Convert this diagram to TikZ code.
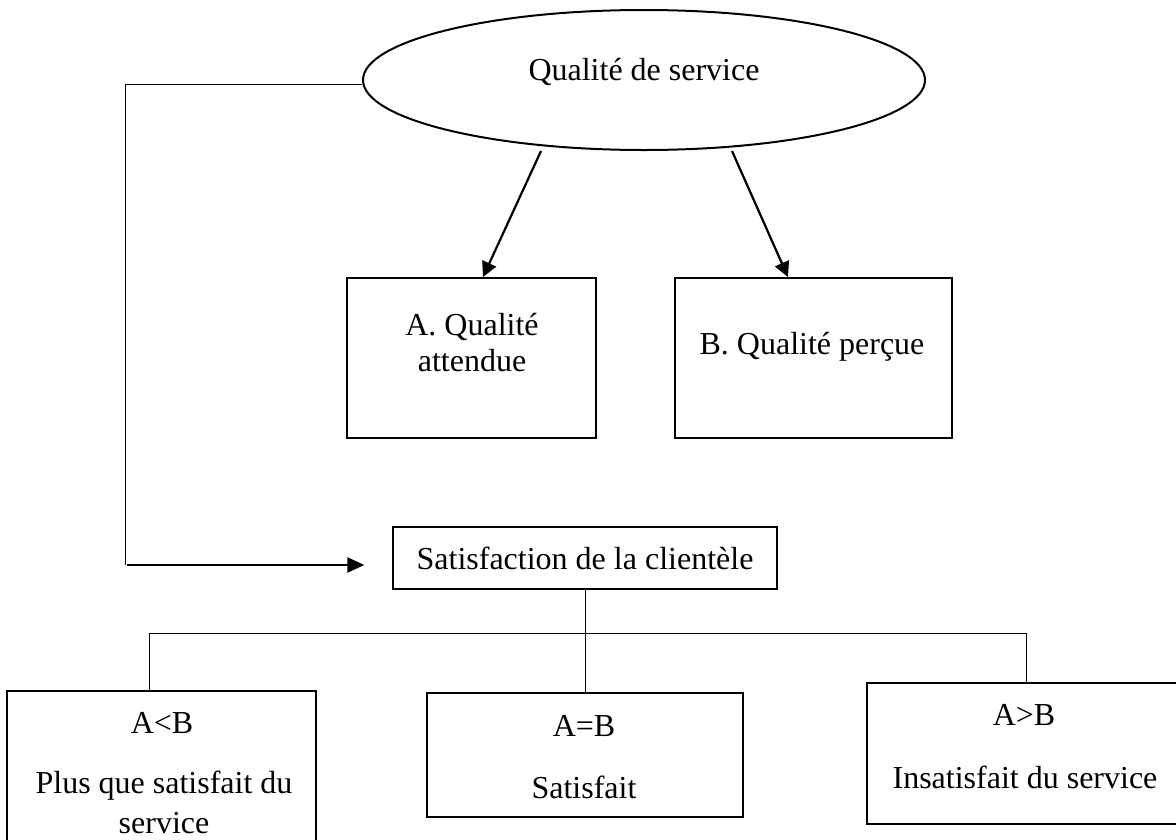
\documentclass[tikz,border=0pt]{standalone}
\usepackage{fontspec}
\setmainfont{Liberation Serif}
\usetikzlibrary{shapes.geometric,arrows.meta,calc}
\begin{document}
\begin{tikzpicture}[x=1pt,y=-1pt,
  txt/.style={font=\fontsize{32}{36}\selectfont, inner sep=0pt, align=center},
  frame/.style={draw, line width=2pt, inner sep=0pt},
  thinframe/.style={draw, line width=1.3pt, inner sep=0pt},
  tree/.style={line width=1pt},
  feed/.style={line width=2.2pt, -{Triangle[length=15pt,width=15pt]}},
  back/.style={line width=2.4pt, -{Triangle[length=17pt,width=15pt]}}]
\clip (0,0) rectangle (1176,839);
\fill[white] (0,0) rectangle (1176,839);

% top concept
\node[ellipse, draw, line width=2pt, minimum width=562pt, minimum height=140pt] (qs) at (644,80) {};
\node[txt] (qst) at (644,72) {Qualité de service};

% the two qualities
\node[frame, minimum width=249pt, minimum height=160pt] (ba) at (471.5,358) {};
\node[txt] (bat) at (472,343) {A. Qualité\\attendue};
\node[frame, minimum width=277pt, minimum height=160pt] (bb) at (813.5,358) {};
\node[txt] (bbt) at (812,347) {B. Qualité perçue};

\draw[feed] ($(qs.center)+(-103,71)$) -- ($(ba.north)+(11.5,0)$);
\draw[feed] ($(qs.center)+(88,71)$) -- ($(bb.north)+(-25.5,0)$);

% satisfaction
\node[thinframe, minimum width=384pt, minimum height=62pt] (sat) at (585,558) {};
\node[txt] (satt) at (585,558) {Satisfaction de la clientèle};

\coordinate (corner) at (125,84);
\coordinate (elbow) at (125,565);
\draw[tree] ($(qs.west)+(0,4)$) -- (corner) -- (elbow);
\draw[back] ($(elbow)+(2,0)$) -- ($(sat.west)+(-28,7)$);

% outcomes
\node[frame, line width=2.5pt, minimum width=309pt, minimum height=169pt] (c1) at (161.5,775.5) {};
\node[txt] (c1a) at (162,723) {A<B};
\node[txt, font=\fontsize{32}{40}\selectfont] (c1b) at (164,802) {Plus que satisfait du\\service};

\node[frame, line width=2.5pt, minimum width=316pt, minimum height=124pt] (c2) at (585,755) {};
\node[txt] (c2a) at (584,726) {A=B};
\node[txt] (c2b) at (584,787) {Satisfait};

\node[frame, line width=2.5pt, minimum width=318pt, minimum height=141pt] (c3) at (1026,753.5) {};
\node[txt] (c3a) at (1024,715) {A>B};
\node[txt] (c3b) at (1025,777) {Insatisfait du service};

% branching lines
\coordinate (j1) at (149,633);
\coordinate (j3) at (1026,633);
\draw[tree] (sat.south) -- (sat.south |- j1);
\draw[tree] (j1) -- (j3);
\draw[tree] (j1) -- (j1 |- c1.north);
\draw[tree] (sat.south |- j1) -- (sat.south |- c2.north);
\draw[tree] (j3) -- (j3 |- c3.north);
\end{tikzpicture}
\end{document}
